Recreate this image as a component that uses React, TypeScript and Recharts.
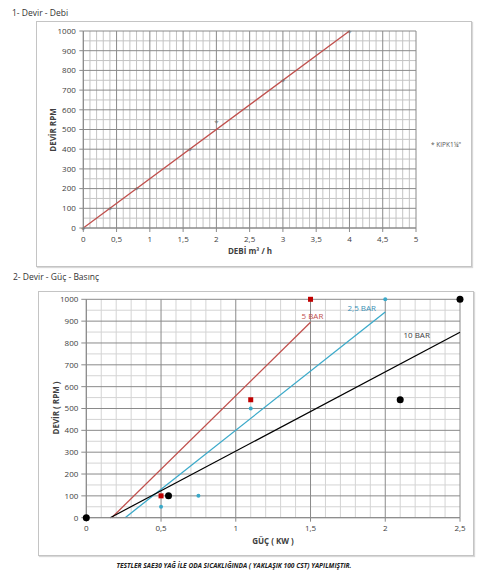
import React from 'react';
import { ComposedChart, XAxis, YAxis, Line, Scatter, ReferenceLine, ReferenceDot } from 'recharts';

const FONT = '"Open Sans", "Liberation Sans", sans-serif';

// ---------- Chart 1: Devir - Debi ----------
const debiTicks = [0, 0.5, 1, 1.5, 2, 2.5, 3, 3.5, 4, 4.5, 5];
const devirTicks = [0, 100, 200, 300, 400, 500, 600, 700, 800, 900, 1000];
const kipkPoints = [
  { x: 0, y: 0 },
  { x: 0.4, y: 100 },
  { x: 0.8, y: 200 },
  { x: 1.6, y: 400 },
  { x: 2, y: 540 },
  { x: 3, y: 750 },
  { x: 4, y: 1000 },
];
const kipkTrend = [
  { x: 0, y: 0 },
  { x: 4, y: 1000 },
];

// ---------- Chart 2: Devir - Güç - Basınç ----------
const gucTicks = [0, 0.5, 1, 1.5, 2, 2.5];
const bar5Points = [
  { x: 0.5, y: 100 },
  { x: 1.1, y: 540 },
  { x: 1.5, y: 1000 },
];
const bar5Trend = [
  { x: 0.17, y: 0 },
  { x: 1.5, y: 895 },
];
const bar25Points = [
  { x: 0.5, y: 50 },
  { x: 0.75, y: 100 },
  { x: 1.1, y: 500 },
  { x: 2, y: 1000 },
];
const bar25Trend = [
  { x: 0.26, y: 0 },
  { x: 2, y: 942 },
];
const bar10Points = [
  { x: 0, y: 0 },
  { x: 0.55, y: 100 },
  { x: 2.1, y: 540 },
  { x: 2.5, y: 1000 },
];
const bar10Trend = [
  { x: 0.16, y: 0 },
  { x: 2.5, y: 849 },
];

const RED = '#c0504d';
const RED_MARK = '#c00000';
const BLUE = '#3aa9c9';
const BLACK = '#000000';

const MAJOR = '#8a8a8a';
const TICK_COLOR = '#404040';

function steps(max: number, step: number): number[] {
  const out: number[] = [];
  const n = Math.round(max / step);
  for (let i = 0; i <= n; i++) out.push(Math.round(i * step * 1000) / 1000);
  return out;
}

const fmt = (v: number) => String(v).replace('.', ',');

const tickStyle = { fontSize: 8, fill: TICK_COLOR, fontFamily: FONT };

function gridLines(xMax: number, xMinor: number, xMajor: number, yMax: number, yMinor: number, yMajor: number, minorColor: string) {
  const isMajor = (v: number, m: number) => Math.abs(v / m - Math.round(v / m)) < 1e-6;
  const xs = steps(xMax, xMinor);
  const ys = steps(yMax, yMinor);
  const minorX = xs.filter((v) => !isMajor(v, xMajor));
  const majorX = xs.filter((v) => isMajor(v, xMajor));
  const minorY = ys.filter((v) => !isMajor(v, yMajor));
  const majorY = ys.filter((v) => isMajor(v, yMajor));
  return [
    ...minorX.map((v) => <ReferenceLine key={'mx' + v} x={v} stroke={minorColor} strokeWidth={1} />),
    ...minorY.map((v) => <ReferenceLine key={'my' + v} y={v} stroke={minorColor} strokeWidth={1} />),
    ...majorX.map((v) => <ReferenceLine key={'Mx' + v} x={v} stroke={MAJOR} strokeWidth={1} />),
    ...majorY.map((v) => <ReferenceLine key={'My' + v} y={v} stroke={MAJOR} strokeWidth={1} />),
  ];
}

const starShape = (p: any) => (
  <text x={p.cx} y={p.cy + 3.5} textAnchor="middle" fontSize={8} fill="#6f6f6f" fontFamily={FONT}>*</text>
);
const squareShape = (p: any) => (
  <rect x={p.cx - 2.5} y={p.cy - 2.5} width={5} height={5} fill={RED_MARK} />
);
const blueDot = (p: any) => <circle cx={p.cx} cy={p.cy} r={2} fill={BLUE} />;
const blackDot = (p: any) => <circle cx={p.cx} cy={p.cy} r={3.5} fill={BLACK} />;

const abs = (left: number, top: number, extra: React.CSSProperties = {}): React.CSSProperties => ({
  position: 'absolute',
  left,
  top,
  fontFamily: FONT,
  ...extra,
});

export default function App() {
  return (
    <div style={{ position: 'absolute', left: 0, top: 0, width: 480, height: 580, background: '#fff', overflow: 'hidden' }}>
      {/* Titles */}
      <div style={abs(12, 7, { fontSize: 8.5, color: '#333', whiteSpace: 'nowrap' })}>1- Devir - Debi</div>
      <div style={abs(13, 271, { fontSize: 8.5, color: '#333', whiteSpace: 'nowrap' })}>2- Devir - Güç - Basınç</div>

      {/* Frames */}
      <div style={abs(36, 21, { width: 434, height: 244, border: '1px solid #c4c4c4', boxShadow: '1px 1px 1px #d8d8d8' })} />
      <div style={abs(38, 291, { width: 434, height: 263, border: '1px solid #c4c4c4', boxShadow: '1px 1px 1px #d8d8d8' })} />

      {/* Chart 1 */}
      <div style={abs(0, 0)}>
        <ComposedChart width={480} height={270} margin={{ top: 31, right: 64, bottom: 12, left: 0 }}>
          <XAxis
            type="number"
            dataKey="x"
            domain={[0, 5]}
            ticks={debiTicks}
            tickFormatter={fmt}
            height={30}
            tick={tickStyle}
            tickSize={4}
            tickMargin={4}
            axisLine={{ stroke: MAJOR }}
            tickLine={{ stroke: MAJOR }}
            interval={0}
          />
          <YAxis
            type="number"
            dataKey="y"
            domain={[0, 1000]}
            ticks={devirTicks}
            width={83.3}
            tick={tickStyle}
            tickSize={4}
            tickMargin={3.5}
            axisLine={{ stroke: MAJOR }}
            tickLine={{ stroke: MAJOR }}
            interval={0}
          />
          {gridLines(5, 0.1, 0.5, 1000, 50, 100, '#c4c4c4')}
          <Line data={kipkTrend} dataKey="y" type="linear" stroke={RED} strokeWidth={1.3} dot={false} isAnimationActive={false} />
          <Scatter data={kipkPoints} dataKey="y" shape={starShape} isAnimationActive={false} />
        </ComposedChart>
      </div>
      <div style={abs(250, 245, { fontSize: 8, fontWeight: 'bold', color: '#404040', transform: 'translateX(-50%)', whiteSpace: 'nowrap' })}>
        DEBİ m³ / h
      </div>
      <div
        style={abs(52, 130, {
          fontSize: 8,
          fontWeight: 'bold',
          color: '#404040',
          transform: 'translate(-50%, -50%) rotate(-90deg)',
          whiteSpace: 'nowrap',
        })}
      >
        DEVİR RPM
      </div>
      <div style={abs(431, 140, { fontSize: 6.5, color: '#555', whiteSpace: 'nowrap' })}>* KIPK1¼"</div>

      {/* Chart 2 */}
      <div style={abs(0, 270)}>
        <ComposedChart width={480} height={310} margin={{ top: 29.3, right: 20, bottom: 32.3, left: 0 }}>
          <XAxis
            type="number"
            dataKey="x"
            domain={[0, 2.5]}
            ticks={gucTicks}
            tickFormatter={fmt}
            height={30}
            tick={tickStyle}
            tickSize={4}
            tickMargin={3.5}
            axisLine={{ stroke: MAJOR }}
            tickLine={{ stroke: MAJOR }}
            interval={0}
          />
          <YAxis
            type="number"
            dataKey="y"
            domain={[0, 1000]}
            ticks={devirTicks}
            width={86.3}
            tick={tickStyle}
            tickSize={5}
            tickMargin={3}
            axisLine={{ stroke: MAJOR }}
            tickLine={{ stroke: MAJOR }}
            interval={0}
          />
          {gridLines(2.5, 0.1, 0.5, 1000, 50, 100, '#d4d4d4')}
          <Line data={bar5Trend} dataKey="y" type="linear" stroke={RED} strokeWidth={1.3} dot={false} isAnimationActive={false} />
          <Line data={bar25Trend} dataKey="y" type="linear" stroke={BLUE} strokeWidth={1.3} dot={false} isAnimationActive={false} />
          <Line data={bar10Trend} dataKey="y" type="linear" stroke={BLACK} strokeWidth={1.2} dot={false} isAnimationActive={false} />
          <Scatter data={bar5Points} dataKey="y" shape={squareShape} isAnimationActive={false} />
          <Scatter data={bar25Points} dataKey="y" shape={blueDot} isAnimationActive={false} />
          <Scatter data={bar10Points} dataKey="y" shape={blackDot} isAnimationActive={false} />
          <ReferenceDot x={1.513} y={922} r={0} label={{ value: '5 BAR', position: 'center', fill: RED, fontSize: 8, fontFamily: FONT }} />
          <ReferenceDot x={1.843} y={960} r={0} label={{ value: '2,5 BAR', position: 'center', fill: '#3a8fb5', fontSize: 8, fontFamily: FONT }} />
          <ReferenceDot x={2.21} y={836} r={0} label={{ value: '10 BAR', position: 'center', fill: '#404040', fontSize: 8, fontFamily: FONT }} />
        </ComposedChart>
      </div>
      <div style={abs(273, 535, { fontSize: 8, fontWeight: 'bold', color: '#404040', transform: 'translateX(-50%)', whiteSpace: 'nowrap' })}>
        GÜÇ ( KW )
      </div>
      <div
        style={abs(55, 408, {
          fontSize: 8,
          fontWeight: 'bold',
          color: '#404040',
          transform: 'translate(-50%, -50%) rotate(-90deg)',
          whiteSpace: 'nowrap',
        })}
      >
        DEVİR ( RPM )
      </div>
      <div
        style={abs(234, 561, {
          fontSize: 6.6,
          fontWeight: 'bold',
          fontStyle: 'italic',
          color: '#222',
          transform: 'translateX(-50%)',
          whiteSpace: 'nowrap',
          fontFamily: '"Liberation Sans Narrow", "Open Sans", sans-serif',
        })}
      >
        TESTLER SAE30 YAĞ İLE ODA SICAKLIĞINDA ( YAKLAŞIK 100 CST) YAPILMIŞTIR.
      </div>
    </div>
  );
}
